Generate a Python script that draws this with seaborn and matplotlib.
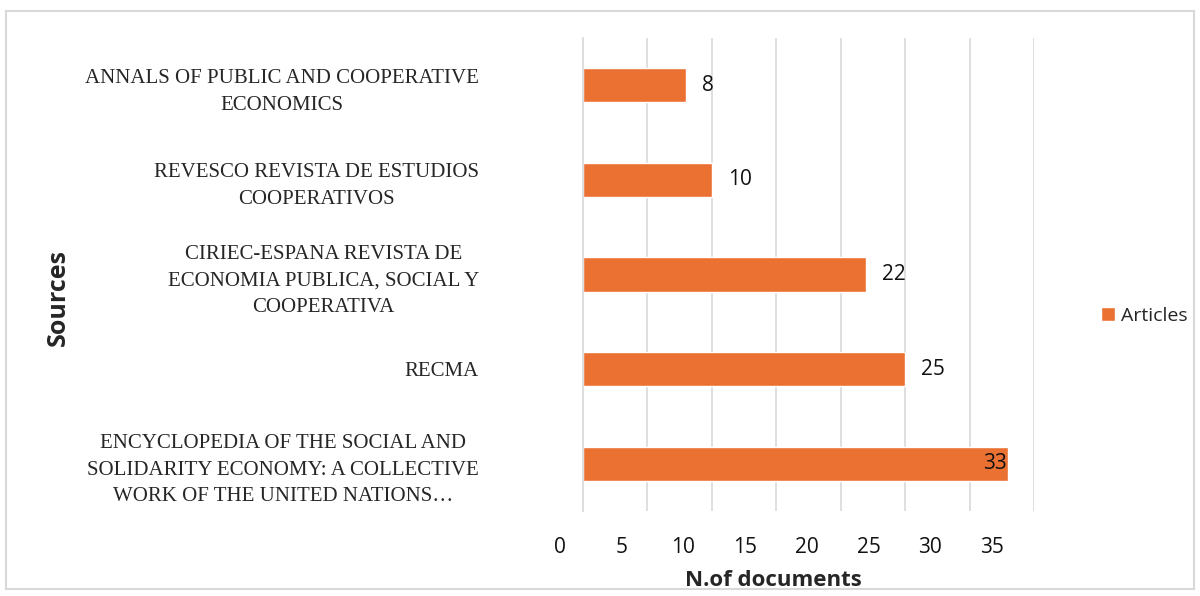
import numpy as np
import pandas as pd
import matplotlib
matplotlib.use("Agg")
import matplotlib.pyplot as plt
import matplotlib.transforms as mtransforms
from matplotlib.patches import Rectangle
import seaborn as sns

sources = [
    "ANNALS OF PUBLIC AND COOPERATIVE\nECONOMICS",
    "REVESCO REVISTA DE ESTUDIOS\nCOOPERATIVOS",
    "CIRIEC-ESPANA REVISTA DE\nECONOMIA PUBLICA, SOCIAL Y\nCOOPERATIVA",
    "RECMA",
    "ENCYCLOPEDIA OF THE SOCIAL AND\nSOLIDARITY ECONOMY: A COLLECTIVE\nWORK OF THE UNITED NATIONS\u2026",
]
articles = [8, 10, 22, 25, 33]
x_ticks = [0, 5, 10, 15, 20, 25, 30, 35]

df = pd.DataFrame({"source": sources, "count": articles, "series": "Articles"})

sns.set_style("white")
plt.rcParams["font.family"] = ["Open Sans", "DejaVu Sans"]

orange = "#EB7132"
sans = "Open Sans"
serif = "Liberation Serif"

fig = plt.figure(figsize=(12, 5.96), dpi=100)
ax = fig.add_axes([0.4858, 0.1426, 0.3759, 0.7936])

sns.barplot(data=df, x="count", y="source", hue="series", palette=[orange],
            width=0.36, orient="h", ax=ax, legend=True, saturation=1)

ax.set_xlim(0, 35)
ax.set_ylim(4.5, -0.5)
ax.set_xticks(x_ticks)
ax.set_xticklabels([""] * len(x_ticks))
ax.grid(axis="x", color="#dcdcdc", linewidth=1.3)
ax.set_axisbelow(True)
for s in ["top", "right", "bottom"]:
    ax.spines[s].set_visible(False)
ax.spines["left"].set_color("#dcdcdc")
ax.spines["left"].set_linewidth(1.3)
ax.tick_params(axis="both", length=0)
ax.tick_params(axis="y", pad=75)
for lab in ax.get_yticklabels():
    lab.set_fontfamily(serif)
    lab.set_fontsize(15)
    lab.set_ha("right")
    lab.set_multialignment("center")
    lab.set_linespacing(1.55)

# x tick labels sit slightly left of the gridlines, as in the source chart
trans = mtransforms.blended_transform_factory(ax.transData, ax.transAxes)
for v in x_ticks:
    ax.text(-1.79 + v * 0.958, -0.078, str(v), transform=trans, ha="center",
            va="center", fontsize=15, family=sans, color="#111111", clip_on=False)

# value labels
for i, v in enumerate(articles):
    if v > 30:
        ax.annotate(str(v), (v, i), xytext=(-1, 0), textcoords="offset points",
                    ha="right", va="center", fontsize=15, family=sans, color="#111111")
    else:
        ax.annotate(str(v), (v, i), xytext=(11.5, 0), textcoords="offset points",
                    ha="left", va="center", fontsize=15, family=sans, color="#111111")

ax.set_xlabel("N.of documents", fontsize=16, fontweight="bold", family=sans)
ax.xaxis.set_label_coords(0.422, -0.125)
ax.set_ylabel("Sources", fontsize=18, fontweight="bold", family=sans)
ax.yaxis.set_label_coords(-1.135, 0.452)

handles, labels = ax.get_legend_handles_labels()
ax.get_legend().remove()
fig.legend(handles, labels, loc="center left", bbox_to_anchor=(0.903, 0.47),
           frameon=False, handlelength=0.7, handleheight=0.7,
           handletextpad=0.3, prop={"family": sans, "size": 14})

fig.patches.append(Rectangle((0.005, 0.012), 0.99, 0.97, transform=fig.transFigure,
                             fill=False, edgecolor="#d9d9d9", linewidth=1.5))

fig.savefig("out.png", dpi=100)
